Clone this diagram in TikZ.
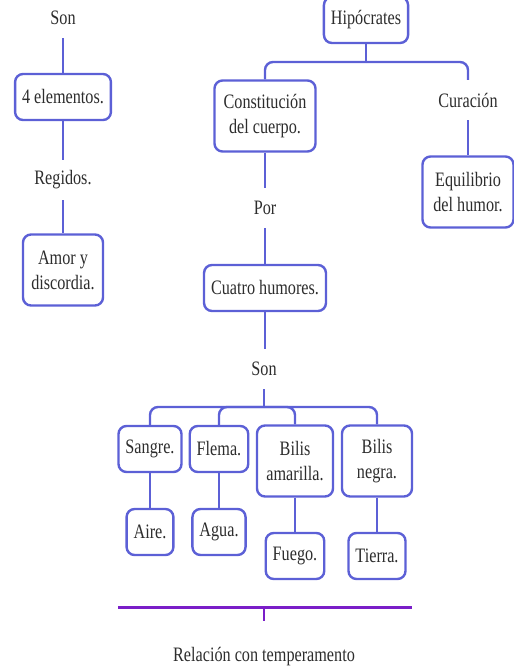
\documentclass[tikz,border=0pt]{standalone}
\usepackage{fontspec}
\setmainfont[FakeStretch=0.79]{Liberation Serif}
\usepackage{tikz}
\usetikzlibrary{calc}
\tikzset{>=latex}
\definecolor{myblue}{RGB}{92, 96, 214}
\definecolor{mypurple}{RGB}{122, 30, 200}
\definecolor{mytext}{RGB}{45, 45, 45}

\begin{document}
\begin{tikzpicture}[x=1pt, y=-1pt,
  box/.style={draw=myblue, line width=2.4pt, rounded corners=8pt, fill=white, text=mytext, align=center, minimum height=46pt, inner xsep=7pt, inner ysep=0pt, font=\fontsize{20.5}{25}\selectfont},
  tall/.style={box, minimum height=71pt},
  lbl/.style={text=mytext, minimum height=40pt, inner sep=0pt, font=\fontsize{20.5}{25}\selectfont},
  conn/.style={myblue, line width=2.4pt, rounded corners=8pt}]
\useasboundingbox (0,0) rectangle (514,670);

% left column
\node[lbl] (son) at (63,18) {Son};
\node[box] (elem) at (63,97) {4 elementos.};
\node[lbl] (regidos) at (63,180) {Regidos.};
\node[tall, minimum width=80pt] (amor) at (63,270) {Amor y\\discordia.};
\draw[conn] (son) -- (elem);
\draw[conn] (elem) -- (regidos);
\draw[conn] (regidos) -- (amor);

% Hipocrates
\node[box] (hipo) at (366,20) {Hipócrates};
\node[tall, minimum width=101pt] (const) at (265,116) {Constitución\\del cuerpo.};
\node[lbl] (curacion) at (468,100) {Curación};
\node[tall, minimum width=91pt] (equil) at (468,192) {Equilibrio\\del humor.};
\node[lbl] (por) at (265,208) {Por};
\node[box] (cuatro) at (265,288) {Cuatro humores.};
\node[lbl] (son2) at (264,369) {Son};
\coordinate (top) at (366,62);
\draw[conn] (hipo) -- (top);
\draw[conn] (top) -| (const);
\draw[conn] (top) -| (curacion);
\draw[conn] (curacion) -- (equil);
\draw[conn] (const) -- (por);
\draw[conn] (por) -- (cuatro);
\draw[conn] (cuatro) -- (cuatro |- son2.north);

% humores
\node[box] (sangre) at (150,449) {Sangre.};
\node[box] (flema) at (219,449) {Flema.};
\node[tall, minimum width=76pt] (bilisA) at (295,461) {Bilis\\amarilla.};
\node[tall, minimum width=70pt] (bilisN) at (377,461) {Bilis\\negra.};
\node[box] (aire) at (150,532) {Aire.};
\node[box] (agua) at (219,532) {Agua.};
\node[box] (fuego) at (295,556) {Fuego.};
\node[box] (tierra) at (377,556) {Tierra.};
\coordinate (bar) at (264,407);
\draw[conn] (son2) -- (bar);
\foreach \h in {sangre, flema, bilisA, bilisN}{
\draw[conn] (bar) -| (\h);
}
\draw[conn] (sangre) -- (aire);
\draw[conn] (flema) -- (agua);
\draw[conn] (bilisA) -- (fuego);
\draw[conn] (bilisN) -- (tierra);

% temperamento
\coordinate (pl) at (118,607);
\coordinate (pr) at (412,607);
\coordinate (pm) at (264,607);
\draw[mypurple, line width=3pt] (pl) -- (pr);
\draw[mypurple, line width=2pt] (pm) -- ++(0,14);
\node[lbl] (rel) at (264,657) {Relación con temperamento};
\end{tikzpicture}
\end{document}
